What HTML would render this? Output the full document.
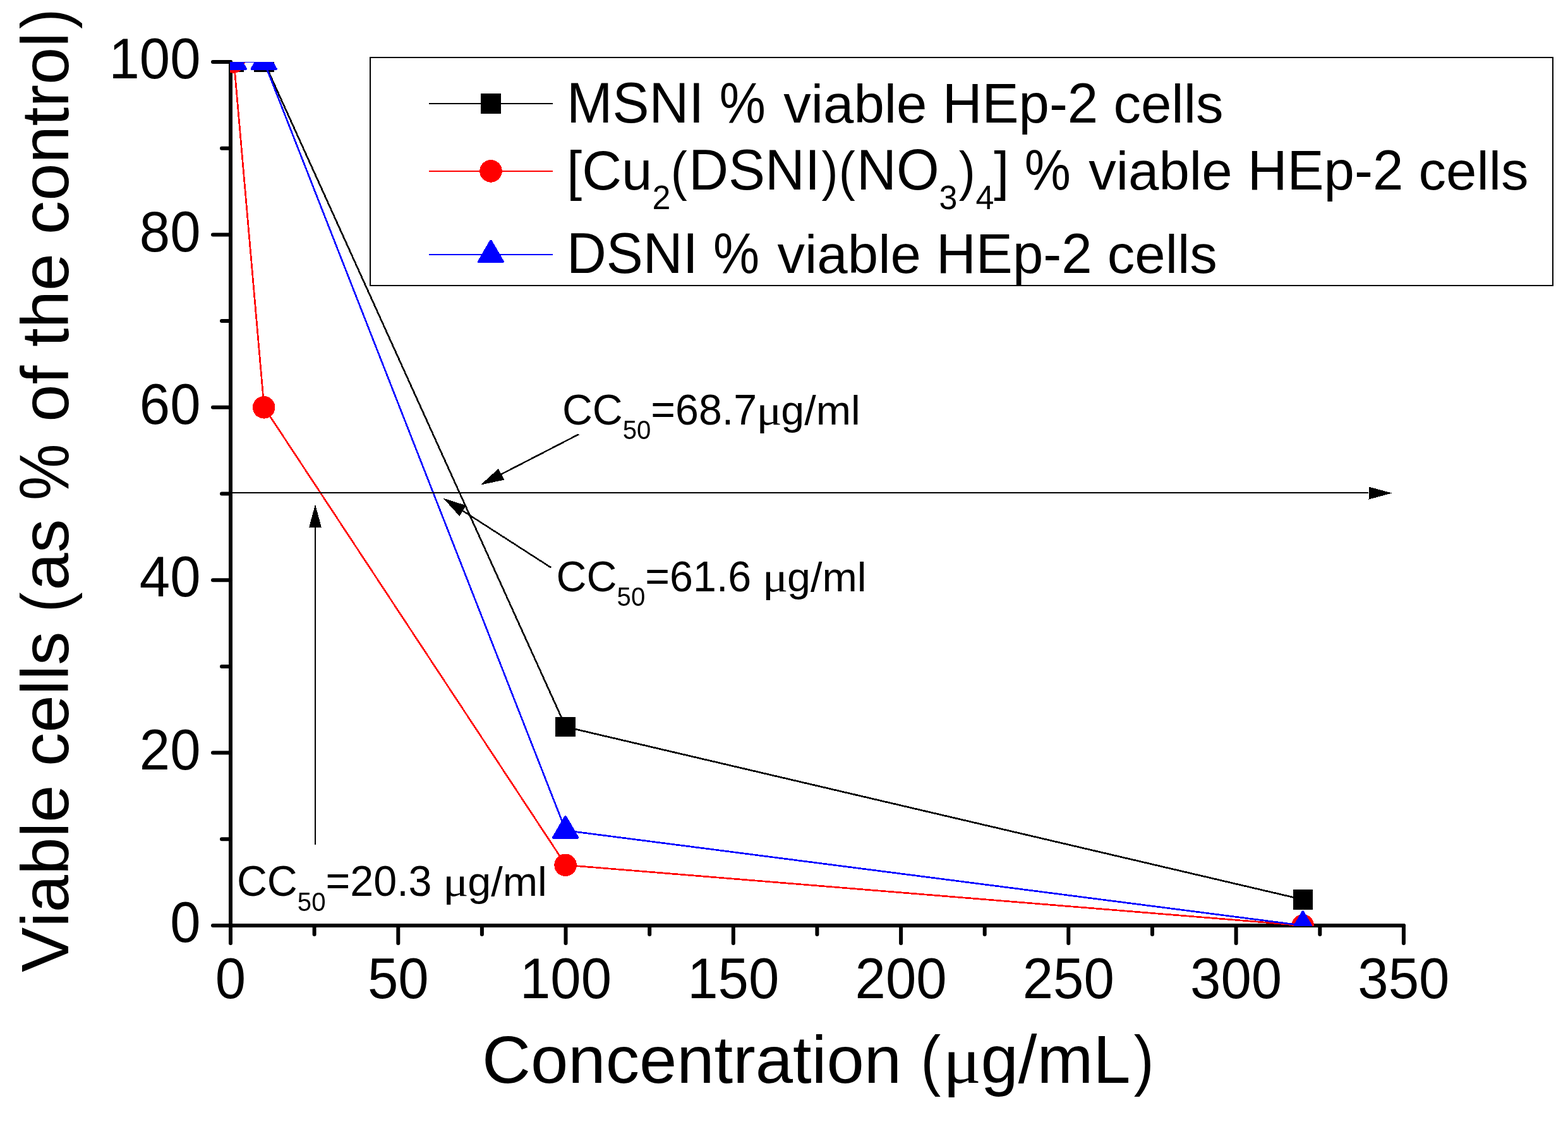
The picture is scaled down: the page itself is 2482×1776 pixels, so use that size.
<!DOCTYPE html>
<html lang="en">
<head>
<meta charset="utf-8">
<title>Viable cells (as % of the control)</title>
<style>
html,body{margin:0;padding:0;background:#fff;}
body{width:2482px;height:1776px;}
svg{display:block;}
text{font-family:"Liberation Sans", sans-serif;fill:#000;font-kerning:none;white-space:pre;}
.mu{font-family:"Liberation Serif", serif;}
</style>
</head>
<body>
<svg width="2482" height="1776" viewBox="0 0 2482 1776">
<rect x="0" y="0" width="2482" height="1776" fill="#fff"/>
<defs>
<clipPath id="plot"><rect x="364" y="98" width="1861" height="1368"/></clipPath>
</defs>

<g stroke="#000" stroke-width="6" stroke-linecap="round" fill="none">
<line x1="365.0" y1="1465.0" x2="2221.9" y2="1465.0"/>
<line x1="365.0" y1="1465.0" x2="365.0" y2="98.0"/>
<line x1="365.0" y1="1465.0" x2="365.0" y2="1493.0"/>
<line x1="497.6" y1="1465.0" x2="497.6" y2="1479.0"/>
<line x1="630.3" y1="1465.0" x2="630.3" y2="1493.0"/>
<line x1="762.9" y1="1465.0" x2="762.9" y2="1479.0"/>
<line x1="895.5" y1="1465.0" x2="895.5" y2="1493.0"/>
<line x1="1028.2" y1="1465.0" x2="1028.2" y2="1479.0"/>
<line x1="1160.8" y1="1465.0" x2="1160.8" y2="1493.0"/>
<line x1="1293.4" y1="1465.0" x2="1293.4" y2="1479.0"/>
<line x1="1426.1" y1="1465.0" x2="1426.1" y2="1493.0"/>
<line x1="1558.7" y1="1465.0" x2="1558.7" y2="1479.0"/>
<line x1="1691.3" y1="1465.0" x2="1691.3" y2="1493.0"/>
<line x1="1824.0" y1="1465.0" x2="1824.0" y2="1479.0"/>
<line x1="1956.6" y1="1465.0" x2="1956.6" y2="1493.0"/>
<line x1="2089.3" y1="1465.0" x2="2089.3" y2="1479.0"/>
<line x1="2221.9" y1="1465.0" x2="2221.9" y2="1493.0"/>
<line x1="365.0" y1="1465.0" x2="337.0" y2="1465.0"/>
<line x1="365.0" y1="1328.3" x2="351.0" y2="1328.3"/>
<line x1="365.0" y1="1191.6" x2="337.0" y2="1191.6"/>
<line x1="365.0" y1="1054.9" x2="351.0" y2="1054.9"/>
<line x1="365.0" y1="918.2" x2="337.0" y2="918.2"/>
<line x1="365.0" y1="781.5" x2="351.0" y2="781.5"/>
<line x1="365.0" y1="644.8" x2="337.0" y2="644.8"/>
<line x1="365.0" y1="508.1" x2="351.0" y2="508.1"/>
<line x1="365.0" y1="371.4" x2="337.0" y2="371.4"/>
<line x1="365.0" y1="234.7" x2="351.0" y2="234.7"/>
<line x1="365.0" y1="98.0" x2="337.0" y2="98.0"/>
</g>
<g clip-path="url(#plot)" shape-rendering="crispEdges">
<polyline points="370.3,98.0 418.1,98.0 895.5,1150.6 2062.7,1424.0" fill="none" stroke="#000" stroke-width="2.7"/>
<rect x="354.1" y="82.2" width="31.6" height="31.6" fill="#000"/>
<rect x="401.9" y="82.2" width="31.6" height="31.6" fill="#000"/>
<rect x="879.3" y="1134.8" width="31.6" height="31.6" fill="#000"/>
<rect x="2046.5" y="1408.2" width="31.6" height="31.6" fill="#000"/>
<polyline points="370.3,98.0 418.1,644.8 895.5,1369.3 2062.7,1465.0" fill="none" stroke="#f00" stroke-width="2.7"/>
<circle cx="369.9" cy="98.0" r="17.8" fill="#f00"/>
<circle cx="417.7" cy="644.8" r="17.8" fill="#f00"/>
<circle cx="895.1" cy="1369.3" r="17.8" fill="#f00"/>
<circle cx="2062.3" cy="1465.0" r="17.8" fill="#f00"/>
<polyline points="370.3,98.0 418.1,98.0 895.5,1314.6 2062.7,1465.0" fill="none" stroke="#00f" stroke-width="2.7"/>
<polygon points="369.9,76.4 350.9,109.1 388.9,109.1" fill="#00f" stroke="#00f" stroke-width="4" stroke-linejoin="round"/>
<polygon points="417.7,76.4 398.7,109.1 436.7,109.1" fill="#00f" stroke="#00f" stroke-width="4" stroke-linejoin="round"/>
<polygon points="895.1,1293.0 876.1,1325.7 914.1,1325.7" fill="#00f" stroke="#00f" stroke-width="4" stroke-linejoin="round"/>
<polygon points="2062.3,1443.4 2043.3,1476.1 2081.3,1476.1" fill="#00f" stroke="#00f" stroke-width="4" stroke-linejoin="round"/>
</g>
<text transform="translate(365.0,1579.8) scale(1,1.0405)" font-size="87" text-anchor="middle">0</text>
<text transform="translate(630.3,1579.8) scale(1,1.0405)" font-size="87" text-anchor="middle">50</text>
<text transform="translate(895.5,1579.8) scale(1,1.0405)" font-size="87" text-anchor="middle">100</text>
<text transform="translate(1160.8,1579.8) scale(1,1.0405)" font-size="87" text-anchor="middle">150</text>
<text transform="translate(1426.1,1579.8) scale(1,1.0405)" font-size="87" text-anchor="middle">200</text>
<text transform="translate(1691.3,1579.8) scale(1,1.0405)" font-size="87" text-anchor="middle">250</text>
<text transform="translate(1956.6,1579.8) scale(1,1.0405)" font-size="87" text-anchor="middle">300</text>
<text transform="translate(2221.9,1579.8) scale(1,1.0405)" font-size="87" text-anchor="middle">350</text>
<text transform="translate(317.6,1491.2) scale(1,1.0405)" font-size="87" text-anchor="end">0</text>
<text transform="translate(317.6,1217.8) scale(1,1.0405)" font-size="87" text-anchor="end">20</text>
<text transform="translate(317.6,944.4) scale(1,1.0405)" font-size="87" text-anchor="end">40</text>
<text transform="translate(317.6,671.0) scale(1,1.0405)" font-size="87" text-anchor="end">60</text>
<text transform="translate(317.6,397.6) scale(1,1.0405)" font-size="87" text-anchor="end">80</text>
<text transform="translate(317.6,124.2) scale(1,1.0405)" font-size="87" text-anchor="end">100</text>
<text x="763" y="1714" font-size="106.65"><tspan font-size="105.51" textLength="664.01" lengthAdjust="spacingAndGlyphs">Concentration</tspan><tspan> </tspan><tspan dx="0.64" font-size="105.05" textLength="31.96" lengthAdjust="spacingAndGlyphs">(</tspan><tspan class="mu" dx="3.21" textLength="60.61" lengthAdjust="spacingAndGlyphs">μ</tspan><tspan dx="-0.60">g/mL</tspan><tspan dx="5.08" font-size="105.05" textLength="31.96" lengthAdjust="spacingAndGlyphs">)</tspan></text>
<text transform="translate(108,1539) rotate(-90)" font-size="106.65"><tspan font-size="106.04" textLength="296.46" lengthAdjust="spacingAndGlyphs">Viable</tspan><tspan> </tspan><tspan font-size="105.05" textLength="213.35" lengthAdjust="spacingAndGlyphs">cells</tspan><tspan> </tspan><tspan dx="0.64" font-size="105.05" textLength="31.96" lengthAdjust="spacingAndGlyphs">(</tspan><tspan dx="2.91" font-size="105.05" textLength="112.64" lengthAdjust="spacingAndGlyphs">as</tspan><tspan> </tspan><tspan font-size="110.60" textLength="89.61" lengthAdjust="spacingAndGlyphs">%</tspan><tspan dx="5.22"> </tspan><tspan font-size="105.05" textLength="88.94" lengthAdjust="spacingAndGlyphs">of</tspan><tspan> </tspan><tspan font-size="105.05" textLength="148.26" lengthAdjust="spacingAndGlyphs">the</tspan><tspan> </tspan><tspan font-size="105.05" textLength="320.11" lengthAdjust="spacingAndGlyphs">control</tspan><tspan dx="5.28" font-size="105.05" textLength="31.96" lengthAdjust="spacingAndGlyphs">)</tspan></text>
<g shape-rendering="crispEdges">
<rect x="586" y="91" width="1872" height="361" fill="#fff" stroke="#000" stroke-width="2"/>
<line x1="679" y1="164" x2="875" y2="164" stroke="#000" stroke-width="2"/>
<line x1="679" y1="271" x2="875" y2="271" stroke="#f00" stroke-width="2"/>
<line x1="679" y1="403" x2="875" y2="403" stroke="#00f" stroke-width="2"/>
<rect x="761.1" y="148.2" width="31.6" height="31.6" fill="#000"/>
<circle cx="777.0" cy="270.9" r="17.8" fill="#f00"/>
<polygon points="776.9,381.6 757.9,414.3 795.9,414.3" fill="#00f" stroke="#00f" stroke-width="4" stroke-linejoin="round"/>
</g>
<text x="897" y="194" font-size="87"><tspan font-size="90.52" textLength="217.50" lengthAdjust="spacingAndGlyphs">MSNI</tspan><tspan> </tspan><tspan font-size="90.22" textLength="73.10" lengthAdjust="spacingAndGlyphs">%</tspan><tspan dx="4.25"> </tspan><tspan font-size="85.69" textLength="227.31" lengthAdjust="spacingAndGlyphs">viable</tspan><tspan> </tspan><tspan font-size="89.31" textLength="246.60" lengthAdjust="spacingAndGlyphs">HEp-2</tspan><tspan> </tspan><tspan font-size="85.69" textLength="174.04" lengthAdjust="spacingAndGlyphs">cells</tspan></text>
<text x="897" y="300" font-size="87"><tspan font-size="87.30" textLength="135.39" lengthAdjust="spacingAndGlyphs">[Cu</tspan><tspan dy="31.20" font-size="54.10" textLength="28.92" lengthAdjust="spacingAndGlyphs">2</tspan><tspan dy="-31.20" dx="0.52" font-size="85.69" textLength="26.07" lengthAdjust="spacingAndGlyphs">(</tspan><tspan dx="2.38" font-size="90.52" textLength="207.86" lengthAdjust="spacingAndGlyphs">DSNI</tspan><tspan dx="2.35" font-size="85.69" textLength="26.07" lengthAdjust="spacingAndGlyphs">)</tspan><tspan dx="1.07" font-size="85.69" textLength="26.07" lengthAdjust="spacingAndGlyphs">(</tspan><tspan dx="2.38" font-size="90.52" textLength="130.50" lengthAdjust="spacingAndGlyphs">NO</tspan><tspan dy="31.20" font-size="54.10" textLength="28.92" lengthAdjust="spacingAndGlyphs">3</tspan><tspan dy="-31.20" dx="2.35" font-size="85.69" textLength="26.07" lengthAdjust="spacingAndGlyphs">)</tspan><tspan dy="31.20" dx="0.55" font-size="54.10" textLength="28.92" lengthAdjust="spacingAndGlyphs">4</tspan><tspan dy="-31.20" font-size="85.69" textLength="24.17" lengthAdjust="spacingAndGlyphs">]</tspan><tspan font-size="87.00"> </tspan><tspan font-size="90.22" textLength="73.10" lengthAdjust="spacingAndGlyphs">%</tspan><tspan dx="4.25" font-size="87.00"> </tspan><tspan font-size="85.69" textLength="227.31" lengthAdjust="spacingAndGlyphs">viable</tspan><tspan font-size="87.00"> </tspan><tspan font-size="89.31" textLength="246.60" lengthAdjust="spacingAndGlyphs">HEp-2</tspan><tspan font-size="87.00"> </tspan><tspan font-size="85.69" textLength="174.04" lengthAdjust="spacingAndGlyphs">cells</tspan></text>
<text x="897" y="432" font-size="87"><tspan font-size="90.52" textLength="207.86" lengthAdjust="spacingAndGlyphs">DSNI</tspan><tspan> </tspan><tspan font-size="90.22" textLength="73.10" lengthAdjust="spacingAndGlyphs">%</tspan><tspan dx="4.25"> </tspan><tspan font-size="85.69" textLength="227.31" lengthAdjust="spacingAndGlyphs">viable</tspan><tspan> </tspan><tspan font-size="89.31" textLength="246.60" lengthAdjust="spacingAndGlyphs">HEp-2</tspan><tspan> </tspan><tspan font-size="85.69" textLength="174.04" lengthAdjust="spacingAndGlyphs">cells</tspan></text>
<text x="889.9" y="672.0" font-size="66.3"><tspan font-size="68.98" textLength="95.76" lengthAdjust="spacingAndGlyphs">CC</tspan><tspan dy="22.50" font-size="41.80" textLength="44.69" lengthAdjust="spacingAndGlyphs">50</tspan><tspan dy="-22.50" font-size="68.98" textLength="167.76" lengthAdjust="spacingAndGlyphs">=68.7</tspan><tspan class="mu" dx="-0.90" textLength="40.52" lengthAdjust="spacingAndGlyphs">μ</tspan><tspan dx="-1.34" font-size="65.31" textLength="125.25" lengthAdjust="spacingAndGlyphs">g/ml</tspan></text>
<text x="880.6" y="936.0" font-size="66.4"><tspan font-size="69.09" textLength="95.90" lengthAdjust="spacingAndGlyphs">CC</tspan><tspan dy="22.80" font-size="41.87" textLength="44.76" lengthAdjust="spacingAndGlyphs">50</tspan><tspan dy="-22.80" font-size="69.09" textLength="168.01" lengthAdjust="spacingAndGlyphs">=61.6</tspan><tspan font-size="66.40"> </tspan><tspan class="mu" dx="-0.90" textLength="40.58" lengthAdjust="spacingAndGlyphs">μ</tspan><tspan dx="-1.35" font-size="65.40" textLength="125.44" lengthAdjust="spacingAndGlyphs">g/ml</tspan></text>
<text x="374.9" y="1418.3" font-size="66.4"><tspan font-size="69.09" textLength="95.90" lengthAdjust="spacingAndGlyphs">CC</tspan><tspan dy="23.20" font-size="41.87" textLength="44.76" lengthAdjust="spacingAndGlyphs">50</tspan><tspan dy="-23.20" font-size="69.09" textLength="168.01" lengthAdjust="spacingAndGlyphs">=20.3</tspan><tspan font-size="66.40"> </tspan><tspan class="mu" dx="-0.90" textLength="40.58" lengthAdjust="spacingAndGlyphs">μ</tspan><tspan dx="-1.35" font-size="65.40" textLength="125.44" lengthAdjust="spacingAndGlyphs">g/ml</tspan></text>
<g shape-rendering="crispEdges">
<line x1="365.0" y1="780.0" x2="2166.5" y2="780.5" stroke="#000" stroke-width="2"/><polygon points="2203.5,780.5 2166.5,790.5 2166.5,770.5" fill="#000"/>
<line x1="916.0" y1="687.5" x2="793.6" y2="750.6" stroke="#000" stroke-width="2.5"/><polygon points="760.7,767.6 789.0,741.8 798.2,759.5" fill="#000"/>
<line x1="872.0" y1="898.3" x2="732.7" y2="808.6" stroke="#000" stroke-width="2.5"/><polygon points="701.6,788.6 738.1,800.2 727.3,817.0" fill="#000"/>
<line x1="499.0" y1="1337.4" x2="499.0" y2="835.4" stroke="#000" stroke-width="2"/><polygon points="499.0,798.4 509.0,835.4 489.0,835.4" fill="#000"/>
</g>
</svg>
</body>
</html>
